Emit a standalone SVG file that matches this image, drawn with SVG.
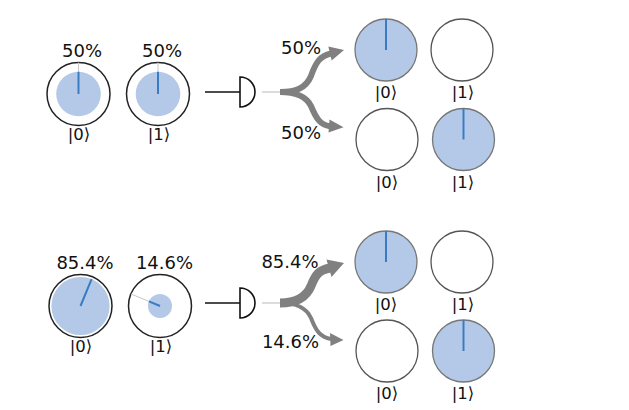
<svg xmlns="http://www.w3.org/2000/svg" width="629" height="410" viewBox="0 0 629 410">
<style>
.pct{font-family:"DejaVu Sans",sans-serif;font-size:18px;fill:#111;text-anchor:middle}
.ket{font-family:"DejaVu Sans",sans-serif;font-size:16.5px;fill:#111;text-anchor:middle}
.outer{fill:#fff;stroke:#222;stroke-width:1.5}
.disc{fill:#b3c9e7}
.vec{stroke:#3a7cc4;stroke-width:2;fill:none}
.guide{stroke:#c8c8c8;stroke-width:1;fill:none}
.res{fill:#fff;stroke:#555;stroke-width:1.3}
.resf{fill:#b3c9e7;stroke:#777;stroke-width:1.3}
.wire{stroke:#111;stroke-width:1.6;fill:none}
.det{fill:#fff;stroke:#111;stroke-width:1.6}
.arr{stroke:#808080;fill:none;stroke-linecap:butt}
.head{fill:#808080}
.thin{stroke:#d0d0d0;stroke-width:1.5}
</style>
<rect width="629" height="410" fill="#fff"/>

<!-- TOP EXPERIMENT -->
<g id="q-top-0">
<text class="pct" x="82" y="57">50%</text>
<circle class="outer" cx="78.5" cy="94" r="31.5"/>
<circle class="disc" cx="78.5" cy="94" r="22.3"/>
<line class="guide" x1="78.5" y1="71.7" x2="78.5" y2="62.5"/>
<line class="vec" x1="78.5" y1="94" x2="78.5" y2="71.7"/>
<text class="ket" x="79" y="140">|0⟩</text>
</g>
<g id="q-top-1">
<text class="pct" x="162" y="57">50%</text>
<circle class="outer" cx="158" cy="94" r="31.5"/>
<circle class="disc" cx="158" cy="94" r="22.3"/>
<line class="guide" x1="158" y1="71.7" x2="158" y2="62.5"/>
<line class="vec" x1="158" y1="94" x2="158" y2="71.7"/>
<text class="ket" x="159" y="140">|1⟩</text>
</g>
<g id="detector-top">
<path class="det" d="M240,77 A15,15 0 0 1 240,107 Z"/>
</g>
<g id="out-top-a0"><circle class="resf" cx="386" cy="50" r="31"/><line class="vec" x1="386" y1="50" x2="386" y2="19"/><text class="ket" x="386" y="98">|0⟩</text></g>
<g id="out-top-a1"><circle class="res" cx="462" cy="50" r="31"/><text class="ket" x="463" y="98">|1⟩</text></g>
<g id="out-top-b0"><circle class="res" cx="387" cy="139.5" r="31"/><text class="ket" x="387" y="188">|0⟩</text></g>
<g id="out-top-b1"><circle class="resf" cx="463.5" cy="139.5" r="31"/><line class="vec" x1="463.5" y1="139.5" x2="463.5" y2="108.5"/><text class="ket" x="463" y="188">|1⟩</text></g>
<g id="lbl-top"><text class="pct" x="301" y="54">50%</text><text class="pct" x="301" y="139">50%</text></g>

<!-- BOTTOM EXPERIMENT -->
<g id="q-bot-0">
<text class="pct" x="85" y="269">85.4%</text>
<circle class="outer" cx="80.5" cy="306" r="31.5"/>
<circle class="disc" cx="80.5" cy="306" r="29.1"/>
<line class="vec" x1="80.5" y1="306" x2="91.6" y2="279.1"/>
<text class="ket" x="81" y="352">|0⟩</text>
</g>
<g id="q-bot-1">
<text class="pct" x="164.5" y="269">14.6%</text>
<circle class="outer" cx="160" cy="306" r="31.5"/>
<circle class="disc" cx="160" cy="306" r="12"/>
<line class="guide" x1="148.9" y1="301.4" x2="130.9" y2="293.9"/>
<line class="vec" x1="160" y1="306" x2="148.9" y2="301.4"/>
<text class="ket" x="161" y="352">|1⟩</text>
</g>
<g id="detector-bot">
<path class="det" d="M240,288 A15,15 0 0 1 240,318 Z"/>
</g>
<g id="out-bot-a0"><circle class="resf" cx="386" cy="262" r="31"/><line class="vec" x1="386" y1="262" x2="386" y2="231"/><text class="ket" x="386" y="310">|0⟩</text></g>
<g id="out-bot-a1"><circle class="res" cx="462" cy="262" r="31"/><text class="ket" x="463" y="310">|1⟩</text></g>
<g id="out-bot-b0"><circle class="res" cx="387" cy="351" r="31"/><text class="ket" x="387" y="399">|0⟩</text></g>
<g id="out-bot-b1"><circle class="resf" cx="463.5" cy="351" r="31"/><line class="vec" x1="463.5" y1="351" x2="463.5" y2="320"/><text class="ket" x="463" y="399">|1⟩</text></g>
<g id="lbl-bot"><text class="pct" x="290" y="268">85.4%</text><text class="pct" x="290.5" y="348">14.6%</text></g>

<g id="connectors">
<line class="wire" x1="205" y1="92" x2="240" y2="92"/>
<line class="thin" x1="262" y1="92" x2="281" y2="92"/>
<path class="arr" stroke-width="6" d="M280,92 C296,92 306,88 311,76 C316,62 320,56 331,53.5"/>
<polygon class="head" points="344,50 328.3,46.5 331.7,60.5"/>
<path class="arr" stroke-width="6" d="M280,92 C296,92 306,96 311,106 C316,118 320,125 330,126.2"/>
<polygon class="head" points="343.5,127.3 329.5,119.5 328.5,132.5"/>

<line class="wire" x1="205" y1="303" x2="240" y2="303"/>
<line class="thin" x1="262" y1="303" x2="281" y2="303"/>
<path class="arr" stroke-width="9" d="M280,303 C296,303 306,298 311,286 C316,273 320,270 330,268"/>
<polygon class="head" points="344,263 326.5,259.5 331.5,277"/>
<path class="arr" stroke-width="4" d="M280,303 C296,303 306,307 311,318 C316,331 320,337 331,339"/>
<polygon class="head" points="343.5,340 330,333 330.5,346"/>
</g>
</svg>
